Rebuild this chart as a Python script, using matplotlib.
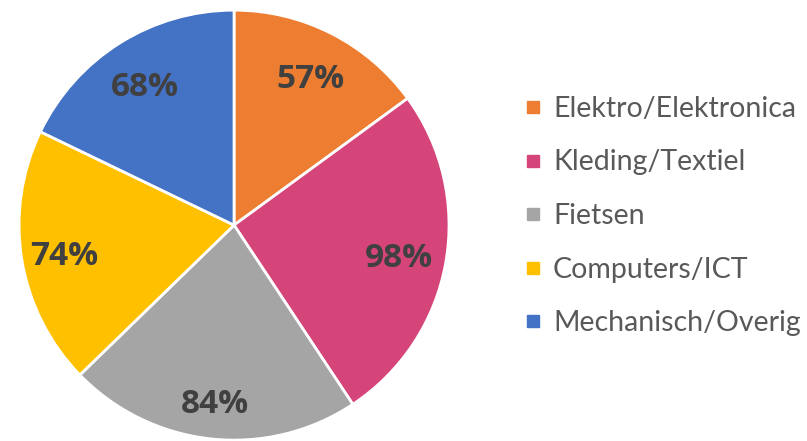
import matplotlib.pyplot as plt
from matplotlib.lines import Line2D

# categories and values (percent)
categories = ['Elektro/Elektronica', 'Kleding/Textiel', 'Fietsen',
              'Computers/ICT', 'Mechanisch/Overig']
values = [57, 98, 84, 74, 68]
colors = ['#ED7D31', '#D6457A', '#A5A5A5', '#FFC000', '#4472C4']

total = sum(values)

fig = plt.figure(figsize=(8.07, 4.41), dpi=100)
ax = fig.add_axes([0.0235, 0.002, 0.533, 0.975])

wedges, texts, autotexts = ax.pie(
    values, colors=colors, startangle=90, counterclock=False,
    autopct=lambda p: '%d%%' % round(p * total / 100.0),
    pctdistance=0.78,
    wedgeprops={'edgecolor': 'white', 'linewidth': 2})

# label placement like the original (slightly further out at the bottom)
label_dist = [0.78, 0.78, 0.82, 0.80, 0.78]
for t, d in zip(autotexts, label_dist):
    x, y = t.get_position()
    t.set_position((x * d / 0.78, y * d / 0.78))
    t.set_fontsize(24)
    t.set_fontweight('bold')
    t.set_color('#404040')
    t.set_fontfamily('Open Sans')
    t.set_verticalalignment('center_baseline')
ax.set_xlim(-1, 1)
ax.set_ylim(-1, 1)
ax.set_aspect('equal')

# legend on the right, small square markers
handles = [Line2D([0], [0], marker='s', linestyle='', markersize=9,
                  markerfacecolor=c, markeredgecolor=c) for c in colors]
fig.legend(handles, categories, loc='center left', bbox_to_anchor=(0.62, 0.51),
           frameon=False, handlelength=0.5, handletextpad=0.45, labelspacing=0.97,
           prop={'family': 'Lato', 'size': 20.5}, labelcolor='#595959')

fig.savefig('out.png', dpi=100)
